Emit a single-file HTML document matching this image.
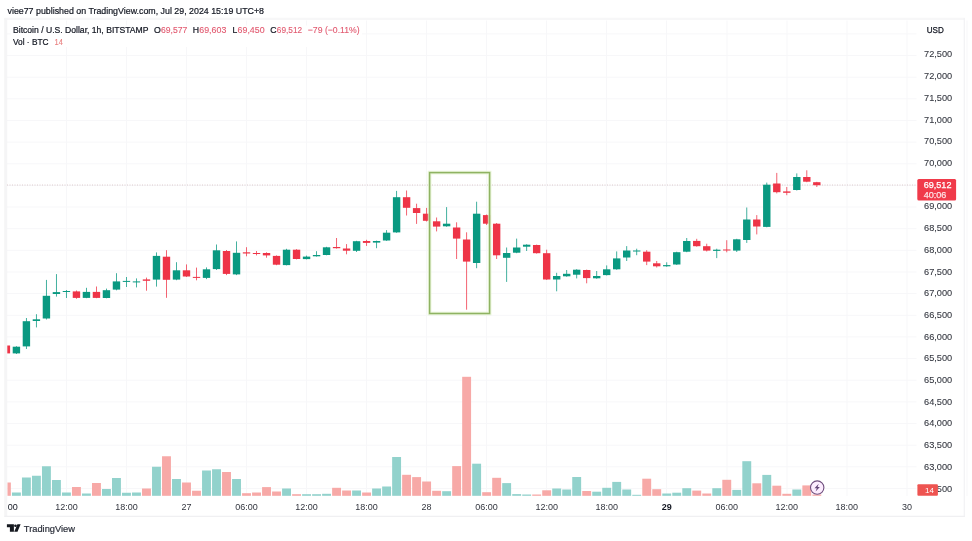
<!DOCTYPE html>
<html><head><meta charset="utf-8"><title>BTCUSD chart</title>
<style>html,body{margin:0;padding:0;background:#fff;}body{width:972px;height:541px;overflow:hidden;font-family:"Liberation Sans",Arial,sans-serif;}svg{display:block}</style>
</head><body>
<svg width="972" height="541" viewBox="0 0 972 541">
<rect width="972" height="541" fill="#fff"/>
<g stroke="#f7f7f9" stroke-width="1">
<line x1="66.5" y1="20.5" x2="66.5" y2="496.0"/>
<line x1="126.5" y1="20.5" x2="126.5" y2="496.0"/>
<line x1="186.5" y1="20.5" x2="186.5" y2="496.0"/>
<line x1="246.5" y1="20.5" x2="246.5" y2="496.0"/>
<line x1="306.5" y1="20.5" x2="306.5" y2="496.0"/>
<line x1="366.5" y1="20.5" x2="366.5" y2="496.0"/>
<line x1="426.5" y1="20.5" x2="426.5" y2="496.0"/>
<line x1="486.5" y1="20.5" x2="486.5" y2="496.0"/>
<line x1="546.5" y1="20.5" x2="546.5" y2="496.0"/>
<line x1="606.5" y1="20.5" x2="606.5" y2="496.0"/>
<line x1="666.5" y1="20.5" x2="666.5" y2="496.0"/>
<line x1="727.0" y1="20.5" x2="727.0" y2="496.0"/>
<line x1="787.0" y1="20.5" x2="787.0" y2="496.0"/>
<line x1="847.0" y1="20.5" x2="847.0" y2="496.0"/>
<line x1="907.0" y1="20.5" x2="907.0" y2="496.0"/>
<line x1="967.0" y1="20.5" x2="967.0" y2="496.0"/>
<line x1="7" y1="33.9" x2="916.5" y2="33.9"/>
<line x1="7" y1="55.5" x2="916.5" y2="55.5"/>
<line x1="7" y1="77.2" x2="916.5" y2="77.2"/>
<line x1="7" y1="98.8" x2="916.5" y2="98.8"/>
<line x1="7" y1="120.4" x2="916.5" y2="120.4"/>
<line x1="7" y1="142.1" x2="916.5" y2="142.1"/>
<line x1="7" y1="163.8" x2="916.5" y2="163.8"/>
<line x1="7" y1="185.4" x2="916.5" y2="185.4"/>
<line x1="7" y1="207.0" x2="916.5" y2="207.0"/>
<line x1="7" y1="228.7" x2="916.5" y2="228.7"/>
<line x1="7" y1="250.3" x2="916.5" y2="250.3"/>
<line x1="7" y1="272.0" x2="916.5" y2="272.0"/>
<line x1="7" y1="293.6" x2="916.5" y2="293.6"/>
<line x1="7" y1="315.3" x2="916.5" y2="315.3"/>
<line x1="7" y1="336.9" x2="916.5" y2="336.9"/>
<line x1="7" y1="358.6" x2="916.5" y2="358.6"/>
<line x1="7" y1="380.2" x2="916.5" y2="380.2"/>
<line x1="7" y1="401.9" x2="916.5" y2="401.9"/>
<line x1="7" y1="423.5" x2="916.5" y2="423.5"/>
<line x1="7" y1="445.2" x2="916.5" y2="445.2"/>
<line x1="7" y1="466.8" x2="916.5" y2="466.8"/>
<line x1="7" y1="488.5" x2="916.5" y2="488.5"/>
</g>
<g fill="none"><path d="M4.4 18.9 H965" stroke="#f7f7f8" stroke-width="2.2"/><path d="M5.7 18 V517" stroke="#f5f5f6" stroke-width="3"/><path d="M964.3 18 V517" stroke="#f2f2f4" stroke-width="1.2"/><path d="M4.4 516.3 H965" stroke="#f0f0f2" stroke-width="1.2"/></g>
<g>
<rect x="7.50" y="482.50" width="3.35" height="13.30" fill="#f7a9a7"/>
<rect x="11.96" y="492.50" width="8.90" height="3.30" fill="#92d2cc"/>
<rect x="21.96" y="477.50" width="8.90" height="18.30" fill="#92d2cc"/>
<rect x="31.96" y="475.75" width="8.90" height="20.05" fill="#92d2cc"/>
<rect x="41.97" y="466.25" width="8.90" height="29.55" fill="#92d2cc"/>
<rect x="51.98" y="480.00" width="8.90" height="15.80" fill="#92d2cc"/>
<rect x="61.98" y="492.50" width="8.90" height="3.30" fill="#92d2cc"/>
<rect x="71.99" y="487.00" width="8.90" height="8.80" fill="#f7a9a7"/>
<rect x="81.99" y="493.50" width="8.90" height="2.30" fill="#92d2cc"/>
<rect x="92.00" y="483.00" width="8.90" height="12.80" fill="#f7a9a7"/>
<rect x="102.00" y="489.00" width="8.90" height="6.80" fill="#92d2cc"/>
<rect x="112.01" y="478.00" width="8.90" height="17.80" fill="#92d2cc"/>
<rect x="122.01" y="492.75" width="8.90" height="3.05" fill="#92d2cc"/>
<rect x="132.02" y="492.50" width="8.90" height="3.30" fill="#92d2cc"/>
<rect x="142.02" y="488.50" width="8.90" height="7.30" fill="#f7a9a7"/>
<rect x="152.03" y="466.75" width="8.90" height="29.05" fill="#92d2cc"/>
<rect x="162.03" y="456.25" width="8.90" height="39.55" fill="#f7a9a7"/>
<rect x="172.04" y="479.00" width="8.90" height="16.80" fill="#92d2cc"/>
<rect x="182.04" y="482.50" width="8.90" height="13.30" fill="#f7a9a7"/>
<rect x="192.05" y="490.75" width="8.90" height="5.05" fill="#f7a9a7"/>
<rect x="202.05" y="470.50" width="8.90" height="25.30" fill="#92d2cc"/>
<rect x="212.06" y="469.25" width="8.90" height="26.55" fill="#92d2cc"/>
<rect x="222.06" y="472.00" width="8.90" height="23.80" fill="#f7a9a7"/>
<rect x="232.07" y="479.00" width="8.90" height="16.80" fill="#92d2cc"/>
<rect x="242.07" y="493.20" width="8.90" height="2.60" fill="#f7a9a7"/>
<rect x="252.08" y="492.50" width="8.90" height="3.30" fill="#f7a9a7"/>
<rect x="262.08" y="487.10" width="8.90" height="8.70" fill="#f7a9a7"/>
<rect x="272.09" y="491.50" width="8.90" height="4.30" fill="#f7a9a7"/>
<rect x="282.09" y="488.50" width="8.90" height="7.30" fill="#92d2cc"/>
<rect x="292.10" y="494.20" width="8.90" height="1.60" fill="#f7a9a7"/>
<rect x="302.10" y="494.20" width="8.90" height="1.60" fill="#92d2cc"/>
<rect x="312.11" y="494.20" width="8.90" height="1.60" fill="#92d2cc"/>
<rect x="322.11" y="493.80" width="8.90" height="2.00" fill="#92d2cc"/>
<rect x="332.12" y="487.80" width="8.90" height="8.00" fill="#f7a9a7"/>
<rect x="342.12" y="490.50" width="8.90" height="5.30" fill="#f7a9a7"/>
<rect x="352.12" y="490.50" width="8.90" height="5.30" fill="#92d2cc"/>
<rect x="362.13" y="492.50" width="8.90" height="3.30" fill="#f7a9a7"/>
<rect x="372.13" y="488.50" width="8.90" height="7.30" fill="#92d2cc"/>
<rect x="382.14" y="486.50" width="8.90" height="9.30" fill="#92d2cc"/>
<rect x="392.15" y="457.00" width="8.90" height="38.80" fill="#92d2cc"/>
<rect x="402.15" y="474.80" width="8.90" height="21.00" fill="#f7a9a7"/>
<rect x="412.16" y="477.10" width="8.90" height="18.70" fill="#f7a9a7"/>
<rect x="422.16" y="481.50" width="8.90" height="14.30" fill="#f7a9a7"/>
<rect x="432.17" y="490.80" width="8.90" height="5.00" fill="#f7a9a7"/>
<rect x="442.17" y="491.20" width="8.90" height="4.60" fill="#92d2cc"/>
<rect x="452.18" y="466.10" width="8.90" height="29.70" fill="#f7a9a7"/>
<rect x="462.18" y="376.80" width="8.90" height="119.00" fill="#f7a9a7"/>
<rect x="472.19" y="463.70" width="8.90" height="32.10" fill="#92d2cc"/>
<rect x="482.19" y="492.20" width="8.90" height="3.60" fill="#f7a9a7"/>
<rect x="492.20" y="477.80" width="8.90" height="18.00" fill="#f7a9a7"/>
<rect x="502.20" y="483.10" width="8.90" height="12.70" fill="#92d2cc"/>
<rect x="512.21" y="494.10" width="8.90" height="1.70" fill="#92d2cc"/>
<rect x="522.21" y="494.50" width="8.90" height="1.30" fill="#92d2cc"/>
<rect x="532.21" y="494.50" width="8.90" height="1.30" fill="#f7a9a7"/>
<rect x="542.22" y="490.30" width="8.90" height="5.50" fill="#f7a9a7"/>
<rect x="552.23" y="488.50" width="8.90" height="7.30" fill="#92d2cc"/>
<rect x="562.23" y="489.50" width="8.90" height="6.30" fill="#92d2cc"/>
<rect x="572.24" y="477.00" width="8.90" height="18.80" fill="#92d2cc"/>
<rect x="582.24" y="491.00" width="8.90" height="4.80" fill="#f7a9a7"/>
<rect x="592.25" y="491.70" width="8.90" height="4.10" fill="#92d2cc"/>
<rect x="602.25" y="487.80" width="8.90" height="8.00" fill="#92d2cc"/>
<rect x="612.25" y="481.90" width="8.90" height="13.90" fill="#92d2cc"/>
<rect x="622.26" y="489.50" width="8.90" height="6.30" fill="#92d2cc"/>
<rect x="632.26" y="494.80" width="8.90" height="1.00" fill="#92d2cc"/>
<rect x="642.27" y="478.70" width="8.90" height="17.10" fill="#f7a9a7"/>
<rect x="652.27" y="489.20" width="8.90" height="6.60" fill="#f7a9a7"/>
<rect x="662.28" y="493.50" width="8.90" height="2.30" fill="#92d2cc"/>
<rect x="672.28" y="492.70" width="8.90" height="3.10" fill="#92d2cc"/>
<rect x="682.29" y="488.20" width="8.90" height="7.60" fill="#92d2cc"/>
<rect x="692.29" y="490.60" width="8.90" height="5.20" fill="#f7a9a7"/>
<rect x="702.30" y="493.50" width="8.90" height="2.30" fill="#f7a9a7"/>
<rect x="712.30" y="488.20" width="8.90" height="7.60" fill="#92d2cc"/>
<rect x="722.31" y="479.80" width="8.90" height="16.00" fill="#f7a9a7"/>
<rect x="732.31" y="489.90" width="8.90" height="5.90" fill="#92d2cc"/>
<rect x="742.32" y="461.20" width="8.90" height="34.60" fill="#92d2cc"/>
<rect x="752.33" y="483.30" width="8.90" height="12.50" fill="#f7a9a7"/>
<rect x="762.33" y="474.90" width="8.90" height="20.90" fill="#92d2cc"/>
<rect x="772.34" y="485.70" width="8.90" height="10.10" fill="#f7a9a7"/>
<rect x="782.34" y="493.80" width="8.90" height="2.00" fill="#f7a9a7"/>
<rect x="792.35" y="489.50" width="8.90" height="6.30" fill="#92d2cc"/>
<rect x="802.35" y="485.40" width="8.90" height="10.40" fill="#f7a9a7"/>
<rect x="812.36" y="494.50" width="8.90" height="1.30" fill="#f7a9a7"/>
</g>
<line x1="7" y1="185" x2="916.5" y2="185" stroke="#c8a9ac" stroke-width="0.8" stroke-dasharray="1 1.5" opacity="0.75"/>
<g>
<rect x="7.30" y="345.50" width="2.80" height="7.90" fill="#ee3447"/>
<rect x="15.96" y="346.20" width="0.9" height="7.80" fill="#0a9981" opacity="0.85"/>
<rect x="12.71" y="346.70" width="7.40" height="6.70" fill="#0a9981"/>
<rect x="25.96" y="318.00" width="0.9" height="31.00" fill="#0a9981" opacity="0.85"/>
<rect x="22.71" y="321.20" width="7.40" height="25.20" fill="#0a9981"/>
<rect x="35.96" y="314.20" width="0.9" height="13.20" fill="#0a9981" opacity="0.85"/>
<rect x="32.71" y="319.30" width="7.40" height="1.70" fill="#0a9981"/>
<rect x="45.97" y="279.90" width="0.9" height="39.60" fill="#0a9981" opacity="0.85"/>
<rect x="42.72" y="295.80" width="7.40" height="22.70" fill="#0a9981"/>
<rect x="55.98" y="274.10" width="0.9" height="22.50" fill="#0a9981" opacity="0.85"/>
<rect x="52.73" y="292.10" width="7.40" height="1.90" fill="#0a9981"/>
<rect x="65.98" y="290.00" width="0.9" height="8.00" fill="#0a9981" opacity="0.85"/>
<rect x="62.73" y="291.00" width="7.40" height="1.00" fill="#0a9981"/>
<rect x="75.99" y="290.50" width="0.9" height="8.30" fill="#ee3447" opacity="0.85"/>
<rect x="72.74" y="291.40" width="7.40" height="6.50" fill="#ee3447"/>
<rect x="85.99" y="287.80" width="0.9" height="10.40" fill="#0a9981" opacity="0.85"/>
<rect x="82.74" y="291.90" width="7.40" height="6.00" fill="#0a9981"/>
<rect x="96.00" y="286.50" width="0.9" height="11.70" fill="#ee3447" opacity="0.85"/>
<rect x="92.75" y="291.90" width="7.40" height="6.00" fill="#ee3447"/>
<rect x="106.00" y="288.60" width="0.9" height="9.70" fill="#0a9981" opacity="0.85"/>
<rect x="102.75" y="290.20" width="7.40" height="7.80" fill="#0a9981"/>
<rect x="116.01" y="273.20" width="0.9" height="17.10" fill="#0a9981" opacity="0.85"/>
<rect x="112.76" y="281.40" width="7.40" height="8.20" fill="#0a9981"/>
<rect x="126.01" y="277.00" width="0.9" height="10.00" fill="#0a9981" opacity="0.85"/>
<rect x="122.76" y="280.90" width="7.40" height="1.00" fill="#0a9981"/>
<rect x="136.02" y="278.40" width="0.9" height="9.00" fill="#0a9981" opacity="0.85"/>
<rect x="132.77" y="281.40" width="7.40" height="1.00" fill="#0a9981"/>
<rect x="146.02" y="277.60" width="0.9" height="13.10" fill="#ee3447" opacity="0.85"/>
<rect x="142.77" y="279.40" width="7.40" height="1.40" fill="#ee3447"/>
<rect x="156.03" y="252.40" width="0.9" height="34.20" fill="#0a9981" opacity="0.85"/>
<rect x="152.78" y="255.90" width="7.40" height="23.70" fill="#0a9981"/>
<rect x="166.03" y="250.20" width="0.9" height="47.60" fill="#ee3447" opacity="0.85"/>
<rect x="162.78" y="256.70" width="7.40" height="23.10" fill="#ee3447"/>
<rect x="176.04" y="262.20" width="0.9" height="18.00" fill="#0a9981" opacity="0.85"/>
<rect x="172.79" y="270.30" width="7.40" height="9.30" fill="#0a9981"/>
<rect x="186.04" y="264.40" width="0.9" height="12.60" fill="#ee3447" opacity="0.85"/>
<rect x="182.79" y="270.30" width="7.40" height="6.20" fill="#ee3447"/>
<rect x="196.05" y="267.60" width="0.9" height="12.70" fill="#ee3447" opacity="0.85"/>
<rect x="192.80" y="276.90" width="7.40" height="1.00" fill="#ee3447"/>
<rect x="206.05" y="267.40" width="0.9" height="11.70" fill="#0a9981" opacity="0.85"/>
<rect x="202.80" y="269.30" width="7.40" height="8.60" fill="#0a9981"/>
<rect x="216.06" y="244.50" width="0.9" height="25.50" fill="#0a9981" opacity="0.85"/>
<rect x="212.81" y="250.30" width="7.40" height="18.80" fill="#0a9981"/>
<rect x="226.06" y="250.00" width="0.9" height="25.10" fill="#ee3447" opacity="0.85"/>
<rect x="222.81" y="251.00" width="7.40" height="22.90" fill="#ee3447"/>
<rect x="236.07" y="241.40" width="0.9" height="33.70" fill="#0a9981" opacity="0.85"/>
<rect x="232.82" y="252.80" width="7.40" height="21.60" fill="#0a9981"/>
<rect x="246.07" y="247.20" width="0.9" height="9.10" fill="#ee3447" opacity="0.85"/>
<rect x="242.82" y="252.30" width="7.40" height="1.20" fill="#ee3447"/>
<rect x="256.08" y="251.00" width="0.9" height="4.40" fill="#ee3447" opacity="0.85"/>
<rect x="252.83" y="253.00" width="7.40" height="1.00" fill="#ee3447"/>
<rect x="266.08" y="252.30" width="0.9" height="5.40" fill="#ee3447" opacity="0.85"/>
<rect x="262.83" y="253.00" width="7.40" height="2.40" fill="#ee3447"/>
<rect x="276.09" y="255.40" width="0.9" height="9.80" fill="#ee3447" opacity="0.85"/>
<rect x="272.84" y="255.90" width="7.40" height="8.80" fill="#ee3447"/>
<rect x="286.09" y="248.80" width="0.9" height="16.60" fill="#0a9981" opacity="0.85"/>
<rect x="282.84" y="249.70" width="7.40" height="15.40" fill="#0a9981"/>
<rect x="296.10" y="249.20" width="0.9" height="10.20" fill="#ee3447" opacity="0.85"/>
<rect x="292.85" y="249.70" width="7.40" height="9.30" fill="#ee3447"/>
<rect x="306.10" y="255.60" width="0.9" height="3.80" fill="#0a9981" opacity="0.85"/>
<rect x="302.85" y="256.60" width="7.40" height="2.50" fill="#0a9981"/>
<rect x="316.11" y="251.20" width="0.9" height="5.40" fill="#0a9981" opacity="0.85"/>
<rect x="312.86" y="255.00" width="7.40" height="1.30" fill="#0a9981"/>
<rect x="326.11" y="246.80" width="0.9" height="8.50" fill="#0a9981" opacity="0.85"/>
<rect x="322.86" y="247.30" width="7.40" height="7.70" fill="#0a9981"/>
<rect x="336.12" y="238.00" width="0.9" height="10.60" fill="#ee3447" opacity="0.85"/>
<rect x="332.87" y="247.00" width="7.40" height="1.20" fill="#ee3447"/>
<rect x="346.12" y="244.10" width="0.9" height="10.20" fill="#ee3447" opacity="0.85"/>
<rect x="342.87" y="248.50" width="7.40" height="2.20" fill="#ee3447"/>
<rect x="356.12" y="240.80" width="0.9" height="11.20" fill="#0a9981" opacity="0.85"/>
<rect x="352.88" y="241.20" width="7.40" height="9.60" fill="#0a9981"/>
<rect x="366.13" y="239.80" width="0.9" height="6.10" fill="#ee3447" opacity="0.85"/>
<rect x="362.88" y="241.00" width="7.40" height="1.90" fill="#ee3447"/>
<rect x="376.13" y="240.60" width="0.9" height="7.60" fill="#0a9981" opacity="0.85"/>
<rect x="372.88" y="241.00" width="7.40" height="1.60" fill="#0a9981"/>
<rect x="386.14" y="230.10" width="0.9" height="10.80" fill="#0a9981" opacity="0.85"/>
<rect x="382.89" y="232.70" width="7.40" height="7.80" fill="#0a9981"/>
<rect x="396.15" y="190.90" width="0.9" height="41.90" fill="#0a9981" opacity="0.85"/>
<rect x="392.90" y="197.20" width="7.40" height="35.20" fill="#0a9981"/>
<rect x="406.15" y="190.50" width="0.9" height="25.00" fill="#ee3447" opacity="0.85"/>
<rect x="402.90" y="197.20" width="7.40" height="10.60" fill="#ee3447"/>
<rect x="416.16" y="203.70" width="0.9" height="20.20" fill="#ee3447" opacity="0.85"/>
<rect x="412.91" y="208.10" width="7.40" height="4.90" fill="#ee3447"/>
<rect x="426.16" y="207.90" width="0.9" height="13.60" fill="#ee3447" opacity="0.85"/>
<rect x="422.91" y="213.70" width="7.40" height="7.10" fill="#ee3447"/>
<rect x="436.17" y="217.50" width="0.9" height="13.90" fill="#ee3447" opacity="0.85"/>
<rect x="432.92" y="221.30" width="7.40" height="5.30" fill="#ee3447"/>
<rect x="446.17" y="207.10" width="0.9" height="19.70" fill="#0a9981" opacity="0.85"/>
<rect x="442.92" y="223.70" width="7.40" height="2.60" fill="#0a9981"/>
<rect x="456.18" y="222.30" width="0.9" height="36.70" fill="#ee3447" opacity="0.85"/>
<rect x="452.93" y="227.50" width="7.40" height="11.10" fill="#ee3447"/>
<rect x="466.18" y="232.30" width="0.9" height="77.40" fill="#ee3447" opacity="0.85"/>
<rect x="462.93" y="239.50" width="7.40" height="22.10" fill="#ee3447"/>
<rect x="476.19" y="201.70" width="0.9" height="66.50" fill="#0a9981" opacity="0.85"/>
<rect x="472.94" y="213.70" width="7.40" height="49.30" fill="#0a9981"/>
<rect x="486.19" y="214.50" width="0.9" height="10.50" fill="#ee3447" opacity="0.85"/>
<rect x="482.94" y="215.10" width="7.40" height="8.60" fill="#ee3447"/>
<rect x="496.20" y="223.00" width="0.9" height="36.00" fill="#ee3447" opacity="0.85"/>
<rect x="492.95" y="223.70" width="7.40" height="31.60" fill="#ee3447"/>
<rect x="506.20" y="247.50" width="0.9" height="34.40" fill="#0a9981" opacity="0.85"/>
<rect x="502.95" y="253.00" width="7.40" height="4.80" fill="#0a9981"/>
<rect x="516.21" y="238.60" width="0.9" height="14.60" fill="#0a9981" opacity="0.85"/>
<rect x="512.96" y="247.50" width="7.40" height="5.20" fill="#0a9981"/>
<rect x="526.21" y="244.20" width="0.9" height="6.80" fill="#0a9981" opacity="0.85"/>
<rect x="522.96" y="244.70" width="7.40" height="2.00" fill="#0a9981"/>
<rect x="536.21" y="244.60" width="0.9" height="9.00" fill="#ee3447" opacity="0.85"/>
<rect x="532.96" y="245.00" width="7.40" height="8.20" fill="#ee3447"/>
<rect x="546.22" y="249.70" width="0.9" height="30.30" fill="#ee3447" opacity="0.85"/>
<rect x="542.97" y="253.20" width="7.40" height="26.30" fill="#ee3447"/>
<rect x="556.23" y="272.80" width="0.9" height="18.50" fill="#0a9981" opacity="0.85"/>
<rect x="552.98" y="276.00" width="7.40" height="3.50" fill="#0a9981"/>
<rect x="566.23" y="270.00" width="0.9" height="6.80" fill="#0a9981" opacity="0.85"/>
<rect x="562.98" y="273.80" width="7.40" height="2.50" fill="#0a9981"/>
<rect x="576.24" y="269.20" width="0.9" height="9.20" fill="#0a9981" opacity="0.85"/>
<rect x="572.99" y="269.70" width="7.40" height="5.00" fill="#0a9981"/>
<rect x="586.24" y="269.60" width="0.9" height="13.70" fill="#ee3447" opacity="0.85"/>
<rect x="582.99" y="270.00" width="7.40" height="8.10" fill="#ee3447"/>
<rect x="596.25" y="271.00" width="0.9" height="7.80" fill="#0a9981" opacity="0.85"/>
<rect x="593.00" y="276.00" width="7.40" height="2.30" fill="#0a9981"/>
<rect x="606.25" y="265.40" width="0.9" height="10.10" fill="#0a9981" opacity="0.85"/>
<rect x="603.00" y="269.30" width="7.40" height="5.80" fill="#0a9981"/>
<rect x="616.25" y="251.40" width="0.9" height="18.40" fill="#0a9981" opacity="0.85"/>
<rect x="613.00" y="258.40" width="7.40" height="10.90" fill="#0a9981"/>
<rect x="626.26" y="246.10" width="0.9" height="14.90" fill="#0a9981" opacity="0.85"/>
<rect x="623.01" y="250.50" width="7.40" height="7.00" fill="#0a9981"/>
<rect x="636.26" y="248.70" width="0.9" height="6.50" fill="#0a9981" opacity="0.85"/>
<rect x="633.01" y="250.50" width="7.40" height="1.00" fill="#0a9981"/>
<rect x="646.27" y="250.20" width="0.9" height="14.90" fill="#ee3447" opacity="0.85"/>
<rect x="643.02" y="251.70" width="7.40" height="9.90" fill="#ee3447"/>
<rect x="656.27" y="261.00" width="0.9" height="6.50" fill="#ee3447" opacity="0.85"/>
<rect x="653.02" y="263.30" width="7.40" height="3.00" fill="#ee3447"/>
<rect x="666.28" y="262.30" width="0.9" height="4.50" fill="#0a9981" opacity="0.85"/>
<rect x="663.03" y="265.10" width="7.40" height="1.20" fill="#0a9981"/>
<rect x="676.28" y="251.70" width="0.9" height="13.30" fill="#0a9981" opacity="0.85"/>
<rect x="673.03" y="252.20" width="7.40" height="12.30" fill="#0a9981"/>
<rect x="686.29" y="238.00" width="0.9" height="14.20" fill="#0a9981" opacity="0.85"/>
<rect x="683.04" y="241.00" width="7.40" height="10.70" fill="#0a9981"/>
<rect x="696.29" y="238.80" width="0.9" height="7.90" fill="#ee3447" opacity="0.85"/>
<rect x="693.04" y="240.90" width="7.40" height="5.30" fill="#ee3447"/>
<rect x="706.30" y="243.70" width="0.9" height="7.80" fill="#ee3447" opacity="0.85"/>
<rect x="703.05" y="246.20" width="7.40" height="4.40" fill="#ee3447"/>
<rect x="716.30" y="248.70" width="0.9" height="9.40" fill="#0a9981" opacity="0.85"/>
<rect x="713.05" y="249.70" width="7.40" height="1.20" fill="#0a9981"/>
<rect x="726.31" y="240.20" width="0.9" height="12.10" fill="#ee3447" opacity="0.85"/>
<rect x="723.06" y="249.50" width="7.40" height="1.00" fill="#ee3447"/>
<rect x="736.31" y="238.80" width="0.9" height="13.20" fill="#0a9981" opacity="0.85"/>
<rect x="733.06" y="239.30" width="7.40" height="11.30" fill="#0a9981"/>
<rect x="746.32" y="207.50" width="0.9" height="35.40" fill="#0a9981" opacity="0.85"/>
<rect x="743.07" y="219.50" width="7.40" height="20.50" fill="#0a9981"/>
<rect x="756.33" y="215.10" width="0.9" height="19.30" fill="#ee3447" opacity="0.85"/>
<rect x="753.08" y="219.50" width="7.40" height="7.00" fill="#ee3447"/>
<rect x="766.33" y="182.60" width="0.9" height="44.70" fill="#0a9981" opacity="0.85"/>
<rect x="763.08" y="184.70" width="7.40" height="42.20" fill="#0a9981"/>
<rect x="776.34" y="172.90" width="0.9" height="20.50" fill="#ee3447" opacity="0.85"/>
<rect x="773.09" y="183.50" width="7.40" height="8.70" fill="#ee3447"/>
<rect x="786.34" y="187.00" width="0.9" height="8.20" fill="#ee3447" opacity="0.85"/>
<rect x="783.09" y="191.40" width="7.40" height="1.40" fill="#ee3447"/>
<rect x="796.35" y="173.40" width="0.9" height="17.10" fill="#0a9981" opacity="0.85"/>
<rect x="793.10" y="177.00" width="7.40" height="13.00" fill="#0a9981"/>
<rect x="806.35" y="170.30" width="0.9" height="11.90" fill="#ee3447" opacity="0.85"/>
<rect x="803.10" y="177.00" width="7.40" height="4.70" fill="#ee3447"/>
<rect x="816.36" y="181.80" width="0.9" height="5.20" fill="#ee3447" opacity="0.85"/>
<rect x="813.11" y="182.20" width="7.40" height="3.00" fill="#ee3447"/>
</g>
<rect x="429.6" y="172.6" width="60" height="140.9" fill="none" stroke="#e3f3cf" stroke-width="3.6" opacity="0.8"/>
<rect x="429.6" y="172.6" width="60" height="140.9" fill="none" stroke="#8fb363" stroke-width="1.5"/>
<g font-family="Liberation Sans, Arial, sans-serif" fill="#131722">
<rect x="11" y="25.5" width="351" height="21.5" fill="#fff"/>
<text x="7.5" y="14.3" font-size="9.75" textLength="256.5" lengthAdjust="spacingAndGlyphs" stroke="#131722" stroke-width="0.22" >viee77 published on TradingView.com, Jul 29, 2024 15:19 UTC+8</text>
<text x="13" y="32.5" font-size="9" textLength="135.5" lengthAdjust="spacingAndGlyphs" stroke="#131722" stroke-width="0.22" >Bitcoin / U.S. Dollar, 1h, BITSTAMP</text>
<text x="154" y="32.5" font-size="9" textLength="6.8" lengthAdjust="spacingAndGlyphs" stroke="#131722" stroke-width="0.22" >O</text>
<text x="161" y="32.5" font-size="9" textLength="26.3" lengthAdjust="spacingAndGlyphs" fill="#e25a70" stroke="#e25a70" stroke-width="0.12" >69,577</text>
<text x="192.7" y="32.5" font-size="9" textLength="6.3" lengthAdjust="spacingAndGlyphs" stroke="#131722" stroke-width="0.22" >H</text>
<text x="199.3" y="32.5" font-size="9" textLength="27" lengthAdjust="spacingAndGlyphs" fill="#e25a70" stroke="#e25a70" stroke-width="0.12" >69,603</text>
<text x="232.5" y="32.5" font-size="9" textLength="4.8" lengthAdjust="spacingAndGlyphs" stroke="#131722" stroke-width="0.22" >L</text>
<text x="237.6" y="32.5" font-size="9" textLength="27" lengthAdjust="spacingAndGlyphs" fill="#e25a70" stroke="#e25a70" stroke-width="0.12" >69,450</text>
<text x="270.2" y="32.5" font-size="9" textLength="6.3" lengthAdjust="spacingAndGlyphs" stroke="#131722" stroke-width="0.22" >C</text>
<text x="276.8" y="32.5" font-size="9" textLength="25.3" lengthAdjust="spacingAndGlyphs" fill="#e25a70" stroke="#e25a70" stroke-width="0.12" >69,512</text>
<text x="307.8" y="32.5" font-size="9" textLength="51.8" lengthAdjust="spacingAndGlyphs" fill="#e25a70" stroke="#e25a70" stroke-width="0.12" >−79 (−0.11%)</text>
<text x="13" y="44.7" font-size="9" textLength="35.5" lengthAdjust="spacingAndGlyphs" stroke="#131722" stroke-width="0.22" >Vol · BTC</text>
<text x="54.5" y="44.7" font-size="9" textLength="8.3" lengthAdjust="spacingAndGlyphs" fill="#e98080" stroke="#e98080" stroke-width="0.12" >14</text>
<text x="926.8" y="33.4" font-size="8.6" textLength="17" lengthAdjust="spacingAndGlyphs" stroke="#131722" stroke-width="0.25">USD</text>
<text x="924" y="57.4" font-size="9.2" textLength="28.2" lengthAdjust="spacingAndGlyphs" fill="#33363f" stroke="#33363f" stroke-width="0.08">72,500</text>
<text x="924" y="79.1" font-size="9.2" textLength="28.2" lengthAdjust="spacingAndGlyphs" fill="#33363f" stroke="#33363f" stroke-width="0.08">72,000</text>
<text x="924" y="100.8" font-size="9.2" textLength="28.2" lengthAdjust="spacingAndGlyphs" fill="#33363f" stroke="#33363f" stroke-width="0.08">71,500</text>
<text x="924" y="122.5" font-size="9.2" textLength="28.2" lengthAdjust="spacingAndGlyphs" fill="#33363f" stroke="#33363f" stroke-width="0.08">71,000</text>
<text x="924" y="144.2" font-size="9.2" textLength="28.2" lengthAdjust="spacingAndGlyphs" fill="#33363f" stroke="#33363f" stroke-width="0.08">70,500</text>
<text x="924" y="165.9" font-size="9.2" textLength="28.2" lengthAdjust="spacingAndGlyphs" fill="#33363f" stroke="#33363f" stroke-width="0.08">70,000</text>
<text x="924" y="187.6" font-size="9.2" textLength="28.2" lengthAdjust="spacingAndGlyphs" fill="#33363f" stroke="#33363f" stroke-width="0.08">69,500</text>
<text x="924" y="209.3" font-size="9.2" textLength="28.2" lengthAdjust="spacingAndGlyphs" fill="#33363f" stroke="#33363f" stroke-width="0.08">69,000</text>
<text x="924" y="231.0" font-size="9.2" textLength="28.2" lengthAdjust="spacingAndGlyphs" fill="#33363f" stroke="#33363f" stroke-width="0.08">68,500</text>
<text x="924" y="252.7" font-size="9.2" textLength="28.2" lengthAdjust="spacingAndGlyphs" fill="#33363f" stroke="#33363f" stroke-width="0.08">68,000</text>
<text x="924" y="274.5" font-size="9.2" textLength="28.2" lengthAdjust="spacingAndGlyphs" fill="#33363f" stroke="#33363f" stroke-width="0.08">67,500</text>
<text x="924" y="296.2" font-size="9.2" textLength="28.2" lengthAdjust="spacingAndGlyphs" fill="#33363f" stroke="#33363f" stroke-width="0.08">67,000</text>
<text x="924" y="317.9" font-size="9.2" textLength="28.2" lengthAdjust="spacingAndGlyphs" fill="#33363f" stroke="#33363f" stroke-width="0.08">66,500</text>
<text x="924" y="339.6" font-size="9.2" textLength="28.2" lengthAdjust="spacingAndGlyphs" fill="#33363f" stroke="#33363f" stroke-width="0.08">66,000</text>
<text x="924" y="361.3" font-size="9.2" textLength="28.2" lengthAdjust="spacingAndGlyphs" fill="#33363f" stroke="#33363f" stroke-width="0.08">65,500</text>
<text x="924" y="383.0" font-size="9.2" textLength="28.2" lengthAdjust="spacingAndGlyphs" fill="#33363f" stroke="#33363f" stroke-width="0.08">65,000</text>
<text x="924" y="404.7" font-size="9.2" textLength="28.2" lengthAdjust="spacingAndGlyphs" fill="#33363f" stroke="#33363f" stroke-width="0.08">64,500</text>
<text x="924" y="426.4" font-size="9.2" textLength="28.2" lengthAdjust="spacingAndGlyphs" fill="#33363f" stroke="#33363f" stroke-width="0.08">64,000</text>
<text x="924" y="448.1" font-size="9.2" textLength="28.2" lengthAdjust="spacingAndGlyphs" fill="#33363f" stroke="#33363f" stroke-width="0.08">63,500</text>
<text x="924" y="469.8" font-size="9.2" textLength="28.2" lengthAdjust="spacingAndGlyphs" fill="#33363f" stroke="#33363f" stroke-width="0.08">63,000</text>
<text x="924" y="491.6" font-size="9.2" textLength="28.2" lengthAdjust="spacingAndGlyphs" fill="#33363f" stroke="#33363f" stroke-width="0.08">62,500</text>
<clipPath id="cl"><rect x="7" y="496" width="100" height="20"/></clipPath>
<text x="6.4" y="510.4" font-size="9" text-anchor="middle" clip-path="url(#cl)">06:00</text>
<text x="66.4" y="510.4" font-size="9" text-anchor="middle" fill="#33363f">12:00</text>
<text x="126.5" y="510.4" font-size="9" text-anchor="middle" fill="#33363f">18:00</text>
<text x="186.5" y="510.4" font-size="9" text-anchor="middle" fill="#33363f">27</text>
<text x="246.5" y="510.4" font-size="9" text-anchor="middle" fill="#33363f">06:00</text>
<text x="306.6" y="510.4" font-size="9" text-anchor="middle" fill="#33363f">12:00</text>
<text x="366.6" y="510.4" font-size="9" text-anchor="middle" fill="#33363f">18:00</text>
<text x="426.6" y="510.4" font-size="9" text-anchor="middle" fill="#33363f">28</text>
<text x="486.6" y="510.4" font-size="9" text-anchor="middle" fill="#33363f">06:00</text>
<text x="546.7" y="510.4" font-size="9" text-anchor="middle" fill="#33363f">12:00</text>
<text x="606.7" y="510.4" font-size="9" text-anchor="middle" fill="#33363f">18:00</text>
<text x="666.7" y="510.4" font-size="9" text-anchor="middle" font-weight="bold" fill="#131722">29</text>
<text x="726.8" y="510.4" font-size="9" text-anchor="middle" fill="#33363f">06:00</text>
<text x="786.8" y="510.4" font-size="9" text-anchor="middle" fill="#33363f">12:00</text>
<text x="846.8" y="510.4" font-size="9" text-anchor="middle" fill="#33363f">18:00</text>
<text x="906.9" y="510.4" font-size="9" text-anchor="middle" fill="#33363f">30</text>
</g>
<rect x="917.3" y="179.1" width="38.8" height="21.4" rx="1.5" fill="#f03a4a"/>
<g font-family="Liberation Sans, Arial, sans-serif" fill="#fff" font-size="9.1" stroke="#fff" stroke-width="0.25"><text x="923.7" y="187.5" textLength="27.8" lengthAdjust="spacingAndGlyphs">69,512</text><text x="923.7" y="197.5" fill="#fde3e6" stroke="#fde3e6" textLength="22.7" lengthAdjust="spacingAndGlyphs">40:06</text></g>
<rect x="917.4" y="484.2" width="20.5" height="11.5" rx="1" fill="#ee5451"/>
<text x="929.5" y="493" font-family="Liberation Sans, Arial, sans-serif" font-size="8" fill="#fff" text-anchor="middle">14</text>
<g transform="translate(817.2 487.6)"><circle r="6.7" fill="#fcecfe" stroke="#6f4e7e" stroke-width="1.1"/><path d="M1.5 -3.9 L-2.7 0.6 L-0.4 0.6 L-1.6 3.9 L2.7 -0.7 L0.4 -0.7 Z" fill="#64467a"/></g>
<g fill="#15181f"><path d="M6.9 524.3 H13.9 V531.7 H9.9 V527.3 H6.9 Z"/><circle cx="15.45" cy="525.75" r="1.35"/><path d="M17.4 524.3 H20.6 L17.5 531.7 H14.2 Z"/></g>
<text x="23.8" y="531.8" font-family="Liberation Sans, Arial, sans-serif" font-size="9.3" textLength="51.2" lengthAdjust="spacingAndGlyphs" stroke="#2a2e39" stroke-width="0.2" fill="#2a2e39">TradingView</text>
</svg>
</body></html>
